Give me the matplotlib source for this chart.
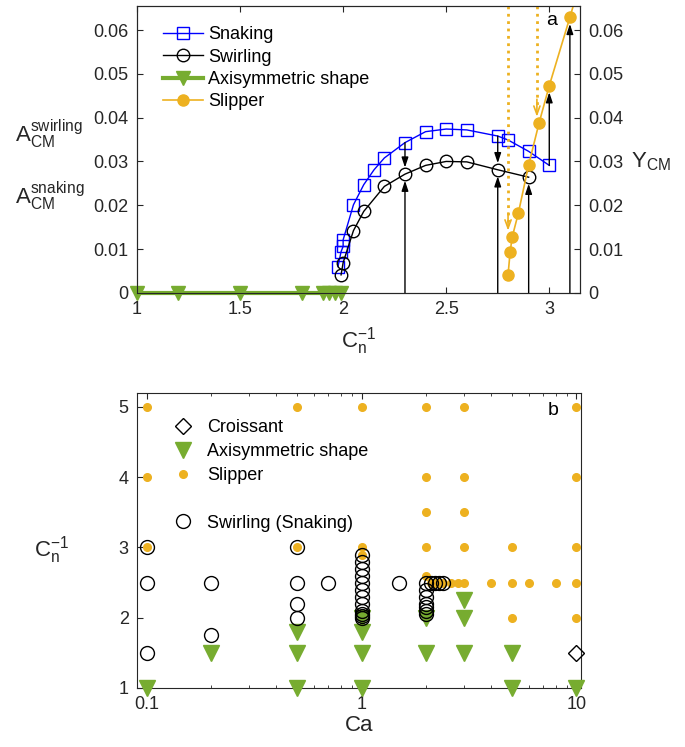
import numpy as np
import matplotlib.pyplot as plt
from matplotlib.lines import Line2D

plt.rcParams['font.family'] = ['Liberation Sans', 'DejaVu Sans']
plt.rcParams['mathtext.fontset'] = 'custom'
plt.rcParams['mathtext.rm'] = 'Liberation Sans'

blue = '#0000ff'
orange = '#EDB120'
green = '#77AC30'
axc = '#262626'

# ---- panel a data ----
snk_x = [1.975, 1.99, 2.0, 2.0, 2.05, 2.1, 2.15, 2.2, 2.3, 2.4, 2.5, 2.6, 2.75, 2.8, 2.9, 3.0]
snk_y = [0.0060, 0.0094, 0.0106, 0.0121, 0.0201, 0.0247, 0.0281, 0.0308, 0.0343, 0.0368,
         0.0374, 0.0372, 0.0358, 0.0349, 0.0323, 0.0291]
swl_x = [1.99, 2.0, 2.05, 2.1, 2.2, 2.3, 2.4, 2.5, 2.6, 2.75, 2.9]
swl_y = [0.0041, 0.0069, 0.0142, 0.0186, 0.0243, 0.0271, 0.0291, 0.0300, 0.0299, 0.0281, 0.0264]
axi_x = [1.0, 1.2, 1.5, 1.8, 1.9, 1.93, 1.96, 1.99]
axi_y = [0, 0, 0, 0, 0, 0, 0, 0]
slp_x = [2.8, 2.81, 2.82, 2.85, 2.9, 2.95, 3.0, 3.1, 3.2]
slp_y = [0.0041, 0.0093, 0.0127, 0.0182, 0.0292, 0.0387, 0.0473, 0.0629, 0.079]

# black arrows: x, start, end
arr_x = [2.3, 2.3, 2.75, 2.75, 2.9, 3.0, 3.1]
arr_y0 = [0.0, 0.0343, 0.0, 0.0358, 0.0, 0.0291, 0.0]
arr_y1 = [0.0256, 0.0286, 0.0266, 0.0296, 0.0249, 0.0458, 0.0614]
# orange dotted arrows (slipper branch, from top)
dot_x = [2.8, 2.94]
dot_y1 = [0.0142, 0.0402]

# ---- panel b data ----
cro_ca = [10]
cro_cn = [1.5]
axb_ca = [0.1, 0.2, 0.5, 0.5, 0.5, 1, 1, 1, 1, 2, 2, 3, 3, 3, 5, 5, 10]
axb_cn = [1.0, 1.5, 1.8, 1.5, 1.0, 1.8, 1.5, 1.0, 2.0, 2.0, 1.5, 2.25, 2.0, 1.5, 1.5, 1.0, 1.0]
slb_ca = [0.1, 0.1, 0.1, 0.5, 0.5, 1, 1, 1,
          2, 2, 2, 2, 2,
          3, 3, 3, 3, 3,
          5, 5, 5, 10, 10, 10, 10, 10,
          2.1, 2.2, 2.3, 2.4, 2.6, 2.8, 4, 6, 8]
slb_cn = [5, 4, 3, 5, 3, 5, 3, 2.9,
          5, 4, 3.5, 3, 2.6,
          5, 4, 3.5, 3, 2.5,
          3, 2.5, 2, 5, 4, 3, 2.5, 2,
          2.5, 2.5, 2.5, 2.5, 2.5, 2.5, 2.5, 2.5, 2.5]
swb_ca = [0.1, 0.1, 0.1, 0.2, 0.2, 0.5, 0.5, 0.5, 0.5, 0.7,
          1, 1, 1, 1, 1, 1, 1, 1, 1, 1, 1, 1, 1.5,
          2, 2, 2, 2, 2, 2, 2, 2.1, 2.2, 2.3, 2.4]
swb_cn = [3, 2.5, 1.5, 2.5, 1.75, 3, 2.5, 2.2, 2.0, 2.5,
          2.9, 2.8, 2.7, 2.6, 2.5, 2.4, 2.3, 2.2, 2.1, 2.05, 2.02, 2.0, 2.5,
          2.5, 2.4, 2.3, 2.2, 2.15, 2.1, 2.05, 2.5, 2.5, 2.5, 2.5]

fig = plt.figure(figsize=(6.85, 7.47), dpi=100)

# ================= panel a =================
ax1 = fig.add_axes([0.2, 0.608, 0.647, 0.384])
ax1.plot(axi_x, axi_y, '-v', color=green, lw=3, ms=10, mfc=green, mec=green,
         label='Axisymmetric shape', clip_on=False, zorder=3)
ax1.plot(snk_x, snk_y, '-s', color=blue, lw=1, ms=8, mfc='none', mew=1, label='Snaking', zorder=4)
ax1.plot(swl_x, swl_y, '-o', color='k', lw=1, ms=9, mfc='none', mew=1, label='Swirling', zorder=4)
ax1.plot(slp_x, slp_y, '-o', color=orange, lw=1.2, ms=8, mfc=orange, mec=orange,
         label='Slipper', zorder=5)

for x, y0, y1 in zip(arr_x, arr_y0, arr_y1):
    ax1.annotate('', xy=(x, y1), xytext=(x, y0),
                 arrowprops=dict(arrowstyle='-|>,head_length=0.6,head_width=0.2',
                                 color='k', lw=1, shrinkA=0, shrinkB=0), zorder=6)
for x, y1 in zip(dot_x, dot_y1):
    ax1.plot([x, x], [0.0655, y1 + 0.002], ':', color=orange, lw=2, zorder=6)
    ax1.annotate('', xy=(x, y1), xytext=(x, y1 + 0.004),
                 arrowprops=dict(arrowstyle='->,head_length=0.6,head_width=0.22',
                                 color=orange, lw=1.2, shrinkA=0, shrinkB=0), zorder=6)

ax1.set_xlim(1, 3.15)
ax1.set_ylim(0, 0.0655)
ax1.set_xticks([1, 1.5, 2, 2.5, 3])
ax1.set_xticklabels(['1', '1.5', '2', '2.5', '3'])
ax1.set_yticks([0, 0.01, 0.02, 0.03, 0.04, 0.05, 0.06])
ax1.set_yticklabels(['0', '0.01', '0.02', '0.03', '0.04', '0.05', '0.06'])
ax1.tick_params(direction='in', top=True, right=False, labelsize=13, colors=axc, length=4, pad=6)
ax1.set_xlabel(r'$\mathregular{C_n^{-1}}$', fontsize=16, color=axc, labelpad=5)

ax1r = ax1.twinx()
ax1r.set_ylim(0, 0.0655)
ax1r.set_yticks([0, 0.01, 0.02, 0.03, 0.04, 0.05, 0.06])
ax1r.set_yticklabels(['0', '0.01', '0.02', '0.03', '0.04', '0.05', '0.06'])
ax1r.tick_params(direction='in', labelsize=13, colors=axc, length=4, pad=6)
for a in (ax1, ax1r):
    for s in a.spines.values():
        s.set_color(axc)

h, l = ax1.get_legend_handles_labels()
order = [1, 2, 0, 3]
ax1.legend([h[i] for i in order], [l[i] for i in order], loc='upper left',
           bbox_to_anchor=(0.042, 0.955), frameon=False, fontsize=13,
           handlelength=2.2, labelspacing=0.3, handletextpad=0.3, borderaxespad=0)
ax1.text(0.935, 0.95, 'a', transform=ax1.transAxes, fontsize=14, ha='center', va='center')

fig.text(0.072, 1 - 134 / 747, r'$\mathregular{A_{CM}^{swirling}}$', fontsize=16,
         ha='center', va='center', color=axc)
fig.text(0.072, 1 - 196 / 747, r'$\mathregular{A_{CM}^{snaking}}$', fontsize=16,
         ha='center', va='center', color=axc)
fig.text(0.95, 1 - 162 / 747, r'$\mathregular{Y_{CM}}$', fontsize=16,
         ha='center', va='center', color=axc)

# ================= panel b =================
ax2 = fig.add_axes([0.2, 0.079, 0.648, 0.395])
ax2.set_xscale('log')
ax2.plot(cro_ca, cro_cn, 'D', ms=8, mfc='none', mec='k', mew=1, clip_on=False, zorder=5)
ax2.plot(axb_ca, axb_cn, 'v', ms=11, color=green, clip_on=False, zorder=3)
ax2.plot(slb_ca, slb_cn, 'o', ms=5.5, color=orange, clip_on=False, zorder=4)
ax2.plot(swb_ca, swb_cn, 'o', ms=10, mfc='none', mec='k', mew=1, clip_on=False, zorder=5)

ax2.set_xlim(0.09, 10.5)
ax2.set_ylim(1, 5.2)
ax2.set_xticks([0.1, 1, 10])
ax2.set_xticklabels(['0.1', '1', '10'])
ax2.set_yticks([1, 2, 3, 4, 5])
ax2.tick_params(which='both', direction='in', top=True, right=True, labelsize=13, colors=axc, pad=6)
ax2.tick_params(which='major', length=4)
ax2.tick_params(which='minor', length=2.5)
for s in ax2.spines.values():
    s.set_color(axc)
ax2.set_xlabel('Ca', fontsize=16, color=axc, labelpad=1)
fig.text(0.075, 1 - 550 / 747, r'$\mathregular{C_n^{-1}}$', fontsize=16,
         ha='center', va='center', color=axc)

hb = [Line2D([], [], ls='none', marker='D', ms=8, mfc='none', mec='k'),
      Line2D([], [], ls='none', marker='v', ms=11, color=green),
      Line2D([], [], ls='none', marker='o', ms=5.5, color=orange),
      Line2D([], [], ls='none', marker=None),
      Line2D([], [], ls='none', marker='o', ms=10, mfc='none', mec='k')]
lb = ['Croissant', 'Axisymmetric shape', 'Slipper', ' ', 'Swirling (Snaking)']
ax2.legend(hb, lb, loc='upper left', bbox_to_anchor=(0.056, 0.935), frameon=False,
           fontsize=13, handlelength=1.5, labelspacing=0.38, handletextpad=0.6,
           borderaxespad=0)
ax2.text(0.937, 0.942, 'b', transform=ax2.transAxes, fontsize=14, ha='center', va='center')

fig.savefig('out.png', dpi=100)
